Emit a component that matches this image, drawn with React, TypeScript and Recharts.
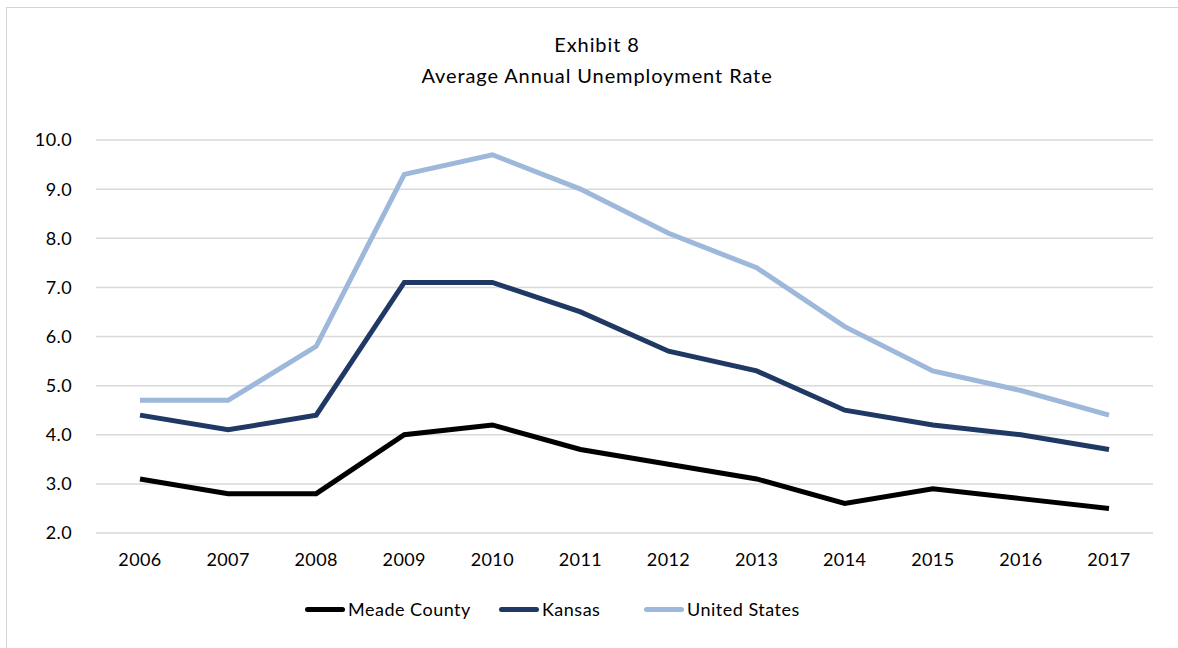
import { LineChart, Line, XAxis, YAxis, CartesianGrid } from 'recharts'

const years = ['2006', '2007', '2008', '2009', '2010', '2011', '2012', '2013', '2014', '2015', '2016', '2017']
const meadeCounty = [3.1, 2.8, 2.8, 4.0, 4.2, 3.7, 3.4, 3.1, 2.6, 2.9, 2.7, 2.5]
const kansas = [4.4, 4.1, 4.4, 7.1, 7.1, 6.5, 5.7, 5.3, 4.5, 4.2, 4.0, 3.7]
const unitedStates = [4.7, 4.7, 5.8, 9.3, 9.7, 9.0, 8.1, 7.4, 6.2, 5.3, 4.9, 4.4]
const yTicks = [2, 3, 4, 5, 6, 7, 8, 9, 10]

const series = [
  { key: 'meade', name: 'Meade County', color: '#000000' },
  { key: 'kansas', name: 'Kansas', color: '#203864' },
  { key: 'us', name: 'United States', color: '#9db8da' },
]

const data = years.map((year, i) => ({
  year,
  meade: meadeCounty[i],
  kansas: kansas[i],
  us: unitedStates[i],
}))

const font = 'Lato, "Open Sans", sans-serif'

export default function App() {
  return (
    <div style={{ position: 'fixed', left: 0, top: 0, width: 1178, height: 648, overflow: 'hidden', background: '#fff', fontFamily: font }}>
      <div style={{ position: 'absolute', left: 0, width: 1194, top: 29, textAlign: 'center', fontSize: 20, lineHeight: '31px', color: '#000', letterSpacing: 0.9 }}>
        <div>Exhibit 8</div>
        <div>Average Annual Unemployment Rate</div>
      </div>
      <div style={{ position: 'absolute', left: 0, top: 0 }}>
        <LineChart width={1178} height={648} data={data} margin={{ top: 140, right: 25, bottom: 75, left: 0 }}>
          <CartesianGrid vertical={false} stroke="#d9d9d9" strokeWidth={1.5} />
          <XAxis
            dataKey="year"
            axisLine={false}
            tickLine={false}
            tickMargin={14}
            height={40}
            padding={{ left: 44, right: 44 }}
            tick={{ fill: '#000', fontSize: 18, fontFamily: font, letterSpacing: 0.4 }}
          />
          <YAxis
            domain={[2, 10]}
            ticks={yTicks}
            tickFormatter={(v: number) => v.toFixed(1)}
            axisLine={false}
            tickLine={false}
            tickMargin={18}
            width={96}
            tick={{ fill: '#000', fontSize: 18, fontFamily: font, letterSpacing: 0.4 }}
          />
          {series.map((s) => (
            <Line
              key={s.key}
              type="linear"
              dataKey={s.key}
              name={s.name}
              stroke={s.color}
              strokeWidth={5}
              dot={false}
              isAnimationActive={false}
            />
          ))}
        </LineChart>
      </div>
      <div style={{ position: 'absolute', top: 597, left: 0, width: 1178, height: 24 }}>
        {series.map((s, i) => (
          <div key={s.key} style={{ position: 'absolute', left: [305, 499, 644][i], top: 0, display: 'flex', alignItems: 'center', height: 24 }}>
            <div style={{ width: 40, height: 5, borderRadius: 3, background: s.color, marginRight: 3 }} />
            <span style={{ fontSize: 18, color: '#000', letterSpacing: 0.5 }}>{s.name}</span>
          </div>
        ))}
      </div>
      <div style={{ position: 'absolute', left: 6, top: 7, width: 1300, height: 800, borderLeft: '1.5px solid #d4d4d4', borderTop: '1.5px solid #d4d4d4', pointerEvents: 'none', zIndex: 5 }} />
    </div>
  )
}
